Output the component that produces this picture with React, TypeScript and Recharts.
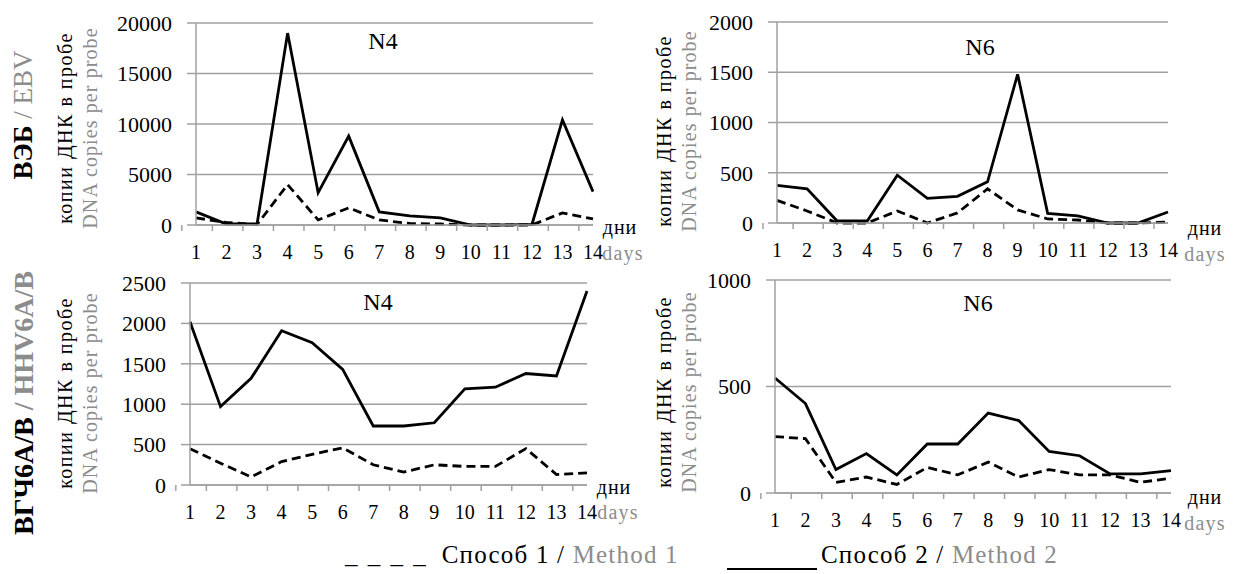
import React from 'react';
import { LineChart, Line, XAxis, YAxis, CartesianGrid } from 'recharts';

// days of observation
const days = [1, 2, 3, 4, 5, 6, 7, 8, 9, 10, 11, 12, 13, 14];

// EBV, patient N4 (method 1 = dashed, method 2 = solid)
const ebvN4Method1 = [700, 250, 50, 4000, 500, 1700, 500, 150, 100, 0, 0, 0, 1200, 600];
const ebvN4Method2 = [1300, 100, 100, 19000, 3200, 8800, 1300, 900, 700, 0, 0, 50, 10400, 3300];

// EBV, patient N6
const ebvN6Method1 = [225, 120, 0, 0, 120, 0, 100, 340, 130, 40, 30, 0, 0, 10];
const ebvN6Method2 = [375, 340, 20, 20, 475, 245, 265, 410, 1480, 95, 70, 0, 0, 110];

// HHV6A/B, patient N4
const hhvN4Method1 = [450, 270, 100, 290, 380, 460, 250, 160, 250, 230, 230, 450, 130, 150];
const hhvN4Method2 = [2020, 970, 1320, 1910, 1760, 1430, 730, 730, 770, 1190, 1210, 1380, 1350, 2400];

// HHV6A/B, patient N6
const hhvN6Method1 = [265, 255, 50, 75, 40, 120, 85, 145, 75, 110, 85, 85, 50, 70];
const hhvN6Method2 = [540, 420, 110, 185, 85, 230, 230, 375, 340, 195, 175, 90, 90, 105];

const FONT = '"Liberation Serif", "Times New Roman", serif';
const GREY_TEXT = '#8c8c8c';
const GRID = '#a0a0a0';

type Box = { left: number; top: number; right: number; bottom: number };

function Panel({ box, m1, m2, max, step }: { box: Box; m1: number[]; m2: number[]; max: number; step: number }) {
  const yAxisW = 95;
  const mTop = 20;
  const mRight = 12;
  const xAxisH = 45;
  const plotW = box.right - box.left;
  const plotH = box.bottom - box.top;
  const band = plotW / days.length;
  const data = days.map((d, i) => ({ day: d, m1: m1[i], m2: m2[i] }));
  const ticks: number[] = [];
  for (let v = 0; v <= max; v += step) ticks.push(v);

  // category ticks sit between days, labels in the middle
  const renderTick = (props: any) => {
    const { x, y, payload, index } = props;
    return (
      <g>
        <line x1={x - band / 2} x2={x - band / 2} y1={y} y2={y + 6} stroke={GRID} strokeWidth={1.5} />
        {index === days.length - 1 && (
          <line x1={x + band / 2} x2={x + band / 2} y1={y} y2={y + 6} stroke={GRID} strokeWidth={1.5} />
        )}
        <text x={x} y={y + 34} textAnchor="middle" fontSize={20} fontFamily={FONT} fill="#000">
          {payload.value}
        </text>
      </g>
    );
  };

  return (
    <div style={{ position: 'absolute', left: box.left - yAxisW, top: box.top - mTop }}>
      <LineChart
        width={plotW + yAxisW + mRight}
        height={plotH + mTop + xAxisH}
        data={data}
        margin={{ top: mTop, right: mRight, bottom: 0, left: 0 }}
      >
        <CartesianGrid vertical={false} stroke={GRID} strokeWidth={1.5} />
        <XAxis
          dataKey="day"
          height={xAxisH}
          interval={0}
          tickSize={0}
          tickMargin={0}
          tickLine={false}
          axisLine={{ stroke: GRID, strokeWidth: 1.5 }}
          tick={renderTick}
        />
        <YAxis
          width={yAxisW}
          domain={[0, max]}
          ticks={ticks}
          interval={0}
          tickSize={9}
          tickMargin={15}
          tickLine={{ stroke: GRID, strokeWidth: 1.5 }}
          axisLine={{ stroke: GRID, strokeWidth: 1.5 }}
          tick={{ fill: '#000', fontSize: 22, fontFamily: FONT }}
        />
        <Line dataKey="m1" stroke="#000" strokeWidth={2.8} strokeDasharray="9 5" dot={false} isAnimationActive={false} />
        <Line dataKey="m2" stroke="#000" strokeWidth={2.8} dot={false} isAnimationActive={false} />
      </LineChart>
    </div>
  );
}

function VLabel({ cx, cy, size, bold, spacing, children }: { cx: number; cy: number; size: number; bold?: boolean; spacing?: number; children: React.ReactNode }) {
  return (
    <div
      style={{
        position: 'absolute',
        left: cx,
        top: cy,
        transform: 'translate(-50%, -50%) rotate(-90deg)',
        whiteSpace: 'nowrap',
        fontSize: size,
        fontWeight: bold ? 'bold' : 'normal',
        letterSpacing: spacing || 0,
        lineHeight: 1,
        fontFamily: FONT,
      }}
    >
      {children}
    </div>
  );
}

function Label({ cx, cy, size, color, spacing, children }: { cx: number; cy: number; size: number; color?: string; spacing?: number; children: React.ReactNode }) {
  return (
    <div
      style={{
        position: 'absolute',
        left: cx,
        top: cy,
        transform: 'translate(-50%, -50%)',
        whiteSpace: 'nowrap',
        fontSize: size,
        letterSpacing: spacing || 0,
        lineHeight: 1,
        fontFamily: FONT,
        color: color || '#000',
      }}
    >
      {children}
    </div>
  );
}

function AxisTitles({ x, cy }: { x: number; cy: number }) {
  return (
    <>
      <VLabel cx={x} cy={cy} size={20} spacing={1.5}>копии ДНК в пробе</VLabel>
      <VLabel cx={x + 25} cy={cy} size={20} spacing={1.1}>
        <span style={{ color: GREY_TEXT }}>DNA copies per probe</span>
      </VLabel>
    </>
  );
}

export default function App() {
  return (
    <div style={{ position: 'absolute', left: 0, top: 0, width: 1238, height: 574, background: '#fff', fontFamily: FONT }}>
      <Panel box={{ left: 196, top: 23, right: 593, bottom: 225 }} m1={ebvN4Method1} m2={ebvN4Method2} max={20000} step={5000} />
      <Panel box={{ left: 777, top: 22, right: 1168, bottom: 223 }} m1={ebvN6Method1} m2={ebvN6Method2} max={2000} step={500} />
      <Panel box={{ left: 190, top: 283, right: 587, bottom: 485 }} m1={hhvN4Method1} m2={hhvN4Method2} max={2500} step={500} />
      <Panel box={{ left: 775, top: 280, right: 1171, bottom: 493 }} m1={hhvN6Method1} m2={hhvN6Method2} max={1000} step={500} />

      <VLabel cx={23} cy={115} size={27} bold>
        ВЭБ <span style={{ color: GREY_TEXT, fontWeight: 'normal' }}>/ EBV</span>
      </VLabel>
      <VLabel cx={24} cy={403} size={28} bold>
        ВГЧ6А/В <span style={{ color: GREY_TEXT }}>/ HHV6A/B</span>
      </VLabel>

      <AxisTitles x={65} cy={128} />
      <AxisTitles x={664} cy={131} />
      <AxisTitles x={65} cy={393} />
      <AxisTitles x={664} cy={392} />

      <Label cx={383} cy={41} size={24}>N4</Label>
      <Label cx={980} cy={47} size={24}>N6</Label>
      <Label cx={378} cy={302} size={24}>N4</Label>
      <Label cx={978} cy={303} size={24}>N6</Label>

      <Label cx={620} cy={227} size={20} spacing={1}>дни</Label>
      <Label cx={623} cy={253} size={20} spacing={1.2} color={GREY_TEXT}>days</Label>
      <Label cx={1205} cy={228} size={20} spacing={1}>дни</Label>
      <Label cx={1205} cy={254} size={20} spacing={1.2} color={GREY_TEXT}>days</Label>
      <Label cx={614} cy={487} size={20} spacing={1}>дни</Label>
      <Label cx={618} cy={512} size={20} spacing={1.2} color={GREY_TEXT}>days</Label>
      <Label cx={1205} cy={497} size={20} spacing={1}>дни</Label>
      <Label cx={1205} cy={523} size={20} spacing={1.2} color={GREY_TEXT}>days</Label>

      <div style={{ position: 'absolute', left: 345, top: 542, fontSize: 25, lineHeight: 1, whiteSpace: 'nowrap' }}>
        <span style={{ letterSpacing: 2 }}>_ _ _ _</span>
        <span style={{ marginLeft: 14, letterSpacing: 1.2 }}>Способ 1 / </span>
        <span style={{ color: GREY_TEXT, letterSpacing: 1.2 }}>Method 1</span>
      </div>
      <div style={{ position: 'absolute', left: 727, top: 542, fontSize: 25, lineHeight: 1, whiteSpace: 'nowrap' }}>
        <span style={{ display: 'inline-block', width: 90, borderBottom: '2px solid #000', height: 26, verticalAlign: 'top' }} />
        <span style={{ marginLeft: 4, letterSpacing: 1.2 }}>Способ 2 / </span>
        <span style={{ color: GREY_TEXT, letterSpacing: 1.2 }}>Method 2</span>
      </div>
    </div>
  );
}
